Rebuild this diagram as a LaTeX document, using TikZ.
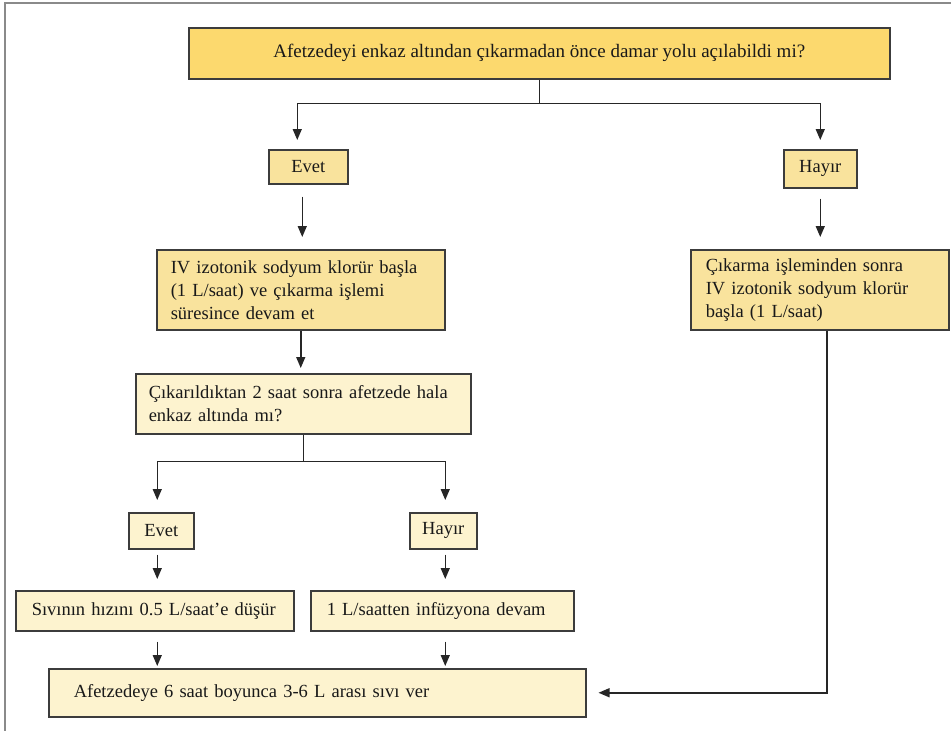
\documentclass[tikz,border=0pt]{standalone}
\usepackage{fontspec}
\setmainfont{Liberation Serif}
\usetikzlibrary{arrows.meta,calc}
\definecolor{cA}{HTML}{FCD96E}
\definecolor{cB}{HTML}{F9E39D}
\definecolor{cC}{HTML}{FDF3CF}
\definecolor{bord}{HTML}{3C3C3C}
\definecolor{frm}{HTML}{8A8A8A}
\tikzset{
  box/.style={draw=bord, line width=1.5pt, anchor=north west, inner ysep=0pt,
    font=\fontsize{18.5}{23}\selectfont, text=black!90},
  cbox/.style={box, inner xsep=0pt, align=center},
  lbox/.style 2 args={box, inner xsep=#1, text width=#2, align=left},
  ln/.style={draw=black!85, line width=1.5pt},
  arr/.style={ln, -{Triangle[length=11pt,width=9pt]}},
  frame/.style={draw=frm, line width=1.5pt}
}
\begin{document}
\begin{tikzpicture}[x=1pt,y=-1pt]
\useasboundingbox (0,0) rectangle (951,731);
\draw[frame] (5,731) -- (5,3) -- (951,3);

\node[cbox, fill=cA, minimum width=701, minimum height=51, font=\fontsize{19}{23}\selectfont] (top) at (188,27)
  {\mbox{Afetzedeyi enkaz altından çıkarmadan önce damar yolu açılabildi mi?}};
\node[cbox, fill=cB, minimum width=79, minimum height=34] (evet1) at (268,149) {Evet};
\node[cbox, fill=cB, minimum width=73, minimum height=38] (hayir1) at (783,149) {Hayır};
\node[lbox={14pt}{260pt}, fill=cB, minimum height=80] (iv1) at (156,249)
  {\mbox{IV izotonik sodyum klorür başla}\\\mbox{(1 L/saat) ve çıkarma işlemi}\\\mbox{süresince devam et}};
\node[lbox={15pt}{228pt}, fill=cB, minimum height=80] (iv2) at (690,249)
  {\mbox{Çıkarma işleminden sonra}\\\mbox{IV izotonik sodyum klorür}\\\mbox{başla (1 L/saat)}};
\node[lbox={13pt}{309pt}, fill=cC, minimum height=60] (cik) at (135,373)
  {\mbox{Çıkarıldıktan 2 saat sonra afetzede hala}\\\mbox{enkaz altında mı?}};
\node[cbox, fill=cC, minimum width=65, minimum height=36] (evet2) at (128,512) {Evet};
\node[cbox, fill=cC, minimum width=67, minimum height=36] (hayir2) at (409,512) {Hayır};
\node[lbox={16pt}{246pt}, fill=cC, minimum height=40] (siv) at (15,590)
  {\mbox{Sıvının hızını 0.5 L/saat’e düşür}};
\node[lbox={16pt}{231pt}, fill=cC, minimum height=40] (inf) at (310,590)
  {\mbox{1 L/saatten infüzyona devam}};
\node[lbox={25pt}{487pt}, fill=cC, minimum height=48] (afet) at (48,668)
  {\mbox{Afetzedeye 6 saat boyunca 3-6 L arası sıvı ver}};

% connectors
\draw[arr, shorten >=9pt] (top.south) -- ++(0,24) -| ([xshift=-11pt]evet1.north);
\draw[arr, shorten >=9pt] (top.south) -- ++(0,24) -| (hayir1.north);
\draw[arr, shorten <=12pt, shorten >=12pt] ([xshift=-6pt]evet1.south) -- ([xshift=-6pt]evet1.south |- iv1.north);
\draw[arr, shorten <=10pt, shorten >=12pt] (hayir1.south) -- (hayir1.south |- iv2.north);
\draw[arr, shorten >=5pt] (iv1.south) -- (iv1.south |- cik.north);
\draw[arr, shorten >=12pt] (cik.south) -- ++(0,27) -| ([xshift=-4pt]evet2.north);
\draw[arr, shorten >=12pt] (cik.south) -- ++(0,27) -| ([xshift=2pt]hayir2.north);
\draw[arr, shorten <=5pt, shorten >=11pt] ([xshift=-4pt]evet2.south) -- ([xshift=-4pt]evet2.south |- siv.north);
\draw[arr, shorten <=5pt, shorten >=11pt] ([xshift=2pt]hayir2.south) -- ([xshift=2pt]hayir2.south |- inf.north);
\draw[arr, shorten <=10pt, shorten >=2pt] ([xshift=-4pt]evet2.south |- siv.south) -- ([xshift=-4pt]evet2.south |- afet.north);
\draw[arr, shorten <=10pt, shorten >=2pt] ([xshift=2pt]hayir2.south |- inf.south) -- ([xshift=2pt]hayir2.south |- afet.north);
\draw[arr, shorten >=12pt] ([xshift=7pt]iv2.south) |- (afet.east);
\end{tikzpicture}
\end{document}
